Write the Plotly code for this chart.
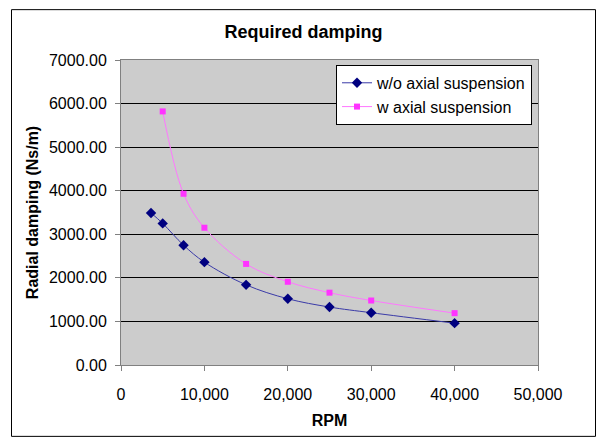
import plotly.graph_objects as go

rpm_wo = [3600, 5000, 7500, 10000, 15000, 20000, 25000, 30000, 40000]
damping_wo = [3490, 3250, 2750, 2360, 1840, 1520, 1330, 1200, 960]

rpm_w = [5000, 7500, 10000, 15000, 20000, 25000, 30000, 40000]
damping_w = [5820, 3930, 3150, 2320, 1910, 1660, 1480, 1190]

x_ticks = [0, 10000, 20000, 30000, 40000, 50000]
y_ticks = [0, 1000, 2000, 3000, 4000, 5000, 6000, 7000]

FONT = "Arial, 'Liberation Sans', sans-serif"

fig = go.Figure()
fig.add_trace(go.Scatter(
    x=rpm_wo, y=damping_wo, name="w/o axial suspension", mode="lines+markers",
    line=dict(color="#3a3aa8", width=1, shape="spline", smoothing=1),
    marker=dict(symbol="diamond", size=8, color="#000080"),
))
fig.add_trace(go.Scatter(
    x=rpm_w, y=damping_w, name="w axial suspension", mode="lines+markers",
    line=dict(color="#FF77FF", width=1, shape="spline", smoothing=1),
    marker=dict(symbol="square", size=6, color="#FF33FF"),
))

W, H = 597, 438
L, R, T, B = 121, 538, 60, 372
pw, ph = R - L, B - T

def px2paper_x(px):
    return (px - L) / pw

def px2paper_y(py):
    return (B - py) / ph

fig.add_shape(type="rect", xref="paper", yref="paper",
              x0=px2paper_x(11.5), x1=px2paper_x(595.5), y0=px2paper_y(445), y1=px2paper_y(8.5),
              line=dict(color="black", width=1), fillcolor="rgba(0,0,0,0)", layer="below")

fig.update_layout(
    width=W, height=H,
    margin=dict(l=L, r=W - R, t=T, b=H - B, pad=0),
    paper_bgcolor="white", plot_bgcolor="#CCCCCC",
    font=dict(family=FONT, size=16, color="black"),
    title=dict(text="<b>Required damping</b>", x=303.5 / W, xanchor="center",
               y=1 - 32 / H, yanchor="middle", font=dict(size=18, family=FONT)),
    showlegend=True,
    legend=dict(x=px2paper_x(336), y=px2paper_y(65), xanchor="left", yanchor="top",
                bgcolor="white", bordercolor="black", borderwidth=1,
                font=dict(size=16, family=FONT), tracegroupgap=0, itemwidth=30),
    xaxis=dict(range=[0, 50000], tickvals=x_ticks, tickformat=",d",
               showgrid=False, zeroline=False, showline=True, linecolor="#808080", linewidth=1,
               mirror=True, ticks="outside", ticklen=5, tickcolor="#808080",
               title=dict(text="<b>RPM</b>", standoff=12, font=dict(size=16)),
               ticklabelstandoff=10),
    yaxis=dict(range=[0, 7000], tickvals=y_ticks, tickformat=".2f",
               showgrid=True, gridcolor="black", gridwidth=1, zeroline=False,
               showline=True, linecolor="#808080", linewidth=1, mirror=True,
               ticks="outside", ticklen=5, tickcolor="#808080",
               title=dict(text="<b>Radial damping (Ns/m)</b>", standoff=6, font=dict(size=16)),
               ticklabelstandoff=5),
)

fig.write_html("out.html")
